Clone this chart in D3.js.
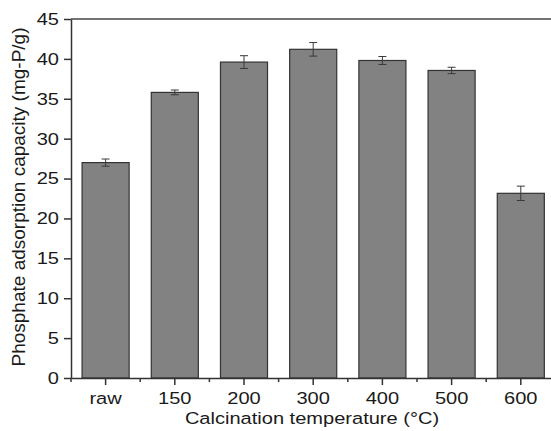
<!DOCTYPE html>
<html>
<head>
<meta charset="utf-8">
<script src="https://cdn.jsdelivr.net/npm/d3@7"></script>
<style>
  body { margin: 0; background: #fff; }
  svg text { font-family: "Liberation Sans", Arial, sans-serif; fill: #1a1a1a; }
  .wide { transform-box: fill-box; transform-origin: center; transform: scaleX(1.18); }
  .wide-r { transform-box: fill-box; transform-origin: right center; transform: scaleX(1.18); }
</style>
</head>
<body>
<svg id="chart" width="551" height="431"></svg>
<script>
const categories = ['raw', '150', '200', '300', '400', '500', '600']
const capacity   = [27.0, 35.8, 39.6, 41.2, 39.8, 38.55, 23.15]
const errors     = [0.45, 0.3, 0.8, 0.85, 0.5, 0.4, 0.9]
const yTicks     = [0, 5, 10, 15, 20, 25, 30, 35, 40, 45]

const svg = d3.select('#chart')
const m = { left: 71, top: 19, bottom: 378 }
const right = 71 + 69.2 * categories.length

const x = d3.scaleBand().domain(categories).range([m.left, right]).paddingInner(0.32).paddingOuter(0.16)
const y = d3.scaleLinear().domain([0, 45]).range([m.bottom, m.top])

const data = categories.map((c, i) => ({ c, v: capacity[i], e: errors[i] }))

// bars
svg.append('g').selectAll('rect').data(data).enter().append('rect')
    .attr('x', d => x(d.c))
    .attr('y', d => y(d.v))
    .attr('width', x.bandwidth())
    .attr('height', d => y(0) - y(d.v))
    .attr('fill', '#828282')
    .attr('stroke', '#333')
    .attr('stroke-width', 1.2)

// error bars
const eb = svg.append('g').attr('stroke', '#3a3a3a').attr('stroke-width', 1)
data.forEach(d => {
    const cx = x(d.c) + x.bandwidth() / 2
    eb.append('line').attr('x1', cx).attr('x2', cx).attr('y1', y(d.v + d.e)).attr('y2', y(d.v - d.e))
    eb.append('line').attr('x1', cx - 4).attr('x2', cx + 4).attr('y1', y(d.v + d.e)).attr('y2', y(d.v + d.e))
    eb.append('line').attr('x1', cx - 4).attr('x2', cx + 4).attr('y1', y(d.v - d.e)).attr('y2', y(d.v - d.e))
})

// y axis
const yAxis = svg.append('g')
    .attr('transform', `translate(${m.left},0)`)
    .call(d3.axisLeft(y).tickValues(yTicks).tickSize(7).tickSizeOuter(0).tickPadding(5))
yAxis.select('.domain').attr('stroke', '#333').attr('stroke-width', 1.5)
yAxis.selectAll('.tick line').attr('stroke', '#333').attr('stroke-width', 1.5)
yAxis.selectAll('text').attr('class', 'wide-r').style('font-size', '17px').attr('fill', '#1a1a1a')

// top frame
svg.append('line')
    .attr('x1', m.left).attr('x2', 551).attr('y1', m.top).attr('y2', m.top)
    .attr('stroke', '#444').attr('stroke-width', 1.5)

// x axis
const xAxis = svg.append('g')
    .attr('transform', `translate(0,${m.bottom})`)
    .call(d3.axisBottom(x).tickSize(7).tickSizeOuter(0).tickPadding(7))
xAxis.select('.domain').attr('stroke', '#333').attr('stroke-width', 1.5)
xAxis.selectAll('.tick line').attr('stroke', '#333').attr('stroke-width', 1.5)
xAxis.selectAll('text').attr('class', 'wide').style('font-size', '17px').attr('fill', '#1a1a1a')

// minor ticks between categories
const step = x.step()
xAxis.selectAll('.minor').data(categories).enter().append('line')
    .attr('x1', (d, i) => m.left + i * step)
    .attr('x2', (d, i) => m.left + i * step)
    .attr('y1', 0).attr('y2', 4)
    .attr('stroke', '#333').attr('stroke-width', 1.5)

// axis titles
svg.append('text')
    .attr('class', 'wide')
    .attr('x', 312).attr('y', 424)
    .attr('text-anchor', 'middle')
    .style('font-size', '17px')
    .text('Calcination temperature (°C)')

svg.append('text')
    .attr('transform', `translate(25,197) rotate(-90)`)
    .attr('text-anchor', 'middle')
    .style('font-size', '19px')
    .text('Phosphate adsorption capacity (mg-P/g)')
</script>
</body>
</html>
